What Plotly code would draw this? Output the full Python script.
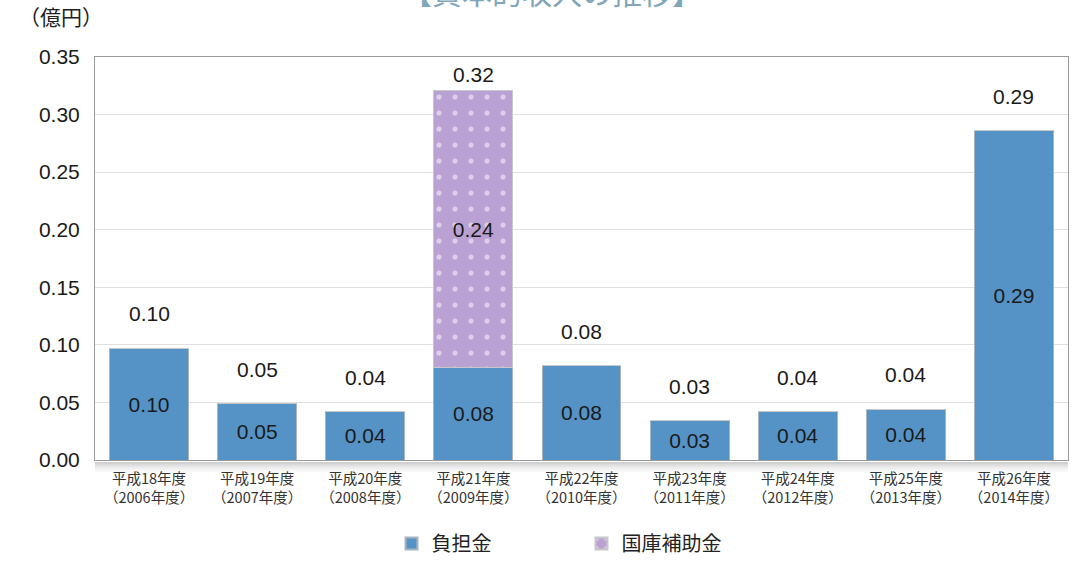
import plotly.graph_objects as go

# 資本的収入の内訳（億円）
years = [
    "平成18年度<br>（2006年度）", "平成19年度<br>（2007年度）", "平成20年度<br>（2008年度）",
    "平成21年度<br>（2009年度）", "平成22年度<br>（2010年度）", "平成23年度<br>（2011年度）",
    "平成24年度<br>（2012年度）", "平成25年度<br>（2013年度）", "平成26年度<br>（2014年度）",
]
futankin = [0.097, 0.049, 0.042, 0.080, 0.082, 0.034, 0.042, 0.044, 0.286]
hojokin = [0, 0, 0, 0.241, 0, 0, 0, 0, 0]
y_ticks = [0.00, 0.05, 0.10, 0.15, 0.20, 0.25, 0.30, 0.35]

FONT = "Liberation Sans, Noto Sans CJK JP, sans-serif"
JP = "Noto Sans CJK JP, sans-serif"
BLUE = "#5593c7"
PURPLE = "#baa1d3"

fig = go.Figure()
fig.add_trace(go.Bar(
    x=years, y=futankin, name="負担金",
    marker=dict(color=BLUE, line=dict(color="#a9b4bd", width=1)),
    text=[f"{v:.2f}" for v in futankin], textposition="inside",
    insidetextanchor="middle", textangle=0, constraintext="none",
    textfont=dict(size=21, color="#1a1a1a", family=FONT),
    width=0.73,
))
fig.add_trace(go.Bar(
    x=years, y=hojokin, name="国庫補助金",
    marker=dict(color=PURPLE, line=dict(color="#c8c8c8", width=1),
                pattern=dict(shape=".", fgcolor="white", bgcolor=PURPLE,
                             size=16, solidity=0.08)),
    text=[f"{v:.2f}" if v > 0 else "" for v in hojokin], textposition="inside",
    insidetextanchor="middle", textangle=0, constraintext="none",
    textfont=dict(size=21, color="#1a1a1a", family=FONT),
    width=0.73,
))

# 合計値ラベル
for x, a, b in zip(years, futankin, hojokin):
    total = a + b
    fig.add_annotation(
        x=x, y=total, text=f"{total:.2f}", showarrow=False,
        yanchor="bottom", yshift=2 if b > 0 else 21,
        font=dict(size=21, color="#1a1a1a", family=FONT),
    )

fig.add_annotation(
    xref="paper", yref="paper", x=-0.035, y=1.06, xanchor="center", yanchor="bottom",
    text="（億円）", showarrow=False, font=dict(size=21, color="#222", family=JP),
)
fig.add_annotation(
    xref="paper", yref="paper", x=0.47, y=1.105, xanchor="center", yanchor="bottom",
    text="【資本的収入の推移】", showarrow=False,
    font=dict(size=30, color="#7fa6b9", family=JP),
)

# プロット領域下の影
for i, op in enumerate([0.28, 0.18, 0.10, 0.05]):
    fig.add_shape(type="rect", xref="paper", yref="paper",
                  x0=0.0, x1=1.0, y0=-0.005 - 0.006 * (i + 1), y1=-0.005 - 0.006 * i,
                  fillcolor=f"rgba(90,90,90,{op})", line=dict(width=0), layer="below")

fig.update_layout(
    width=1073, height=563,
    margin=dict(l=95, r=5, t=57, b=103, autoexpand=False),
    barmode="stack", bargap=0.27,
    plot_bgcolor="white", paper_bgcolor="white",
    showlegend=True,
    legend=dict(orientation="h", x=0.5, xanchor="center",
                yref="container", y=-0.01, yanchor="bottom", traceorder="normal",
                font=dict(size=20, color="#222", family=JP),
                itemsizing="constant", itemwidth=30, entrywidth=145, tracegroupgap=0),
    xaxis=dict(showline=True, linecolor="#9a9a9a", mirror=True, ticks="",
               automargin=False, ticklabelstandoff=6,
               tickfont=dict(size=14.5, color="#333", family=JP)),
    yaxis=dict(range=[0, 0.35], tickvals=y_ticks, automargin=False,
               ticktext=[f"{v:.2f}" for v in y_ticks],
               showline=True, linecolor="#9a9a9a", mirror=True,
               gridcolor="#e0e0e0", gridwidth=1, zeroline=False,
               tickfont=dict(size=21, color="#1a1a1a", family=FONT), ticklabelstandoff=10),
    font=dict(family=JP),
)

fig.write_html("out.html")
